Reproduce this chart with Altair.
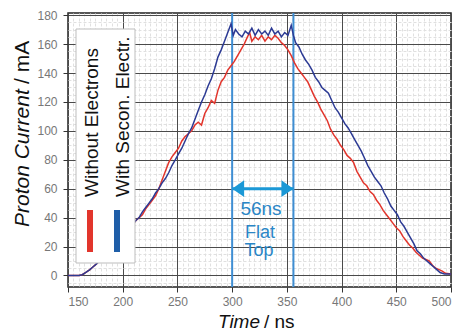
import altair as alt
import pandas as pd

# ---- data ----
t_blue = [150, 155, 160, 163, 166, 170, 173, 176, 180, 184, 188, 192, 196, 200, 204, 208, 212, 215,
          218, 221, 224, 227, 230, 233, 236, 239, 242, 245, 248, 251, 254, 257, 260, 263, 266, 269,
          272, 275, 278, 281, 284, 287, 290, 293, 296, 299, 301, 303, 306, 309, 312, 315, 318, 321,
          324, 327, 330, 333, 336, 339, 342, 345, 348, 351, 354, 356, 358, 361, 364, 367, 370, 373,
          376, 379, 382, 385, 388, 391, 394, 397, 400, 403, 406, 409, 412, 415, 418, 421, 424, 427,
          430, 433, 436, 439, 442, 445, 448, 451, 454, 457, 460, 463, 466, 469, 472, 475, 478, 481,
          484, 487, 490, 494, 500]
v_blue = [0, 0, 0, 0.5, 2, 4, 6, 8, 11, 14, 17, 21, 24, 27, 31, 34, 38, 40,
          44, 47, 50, 53, 57, 60, 64, 67, 71, 76, 80, 84, 88, 93, 98, 102, 108, 114,
          120, 125, 131, 136, 143, 151, 156, 162, 168, 174, 166, 170, 167, 165, 169, 167, 171, 166,
          170, 167, 169, 166, 171, 167, 169, 165, 168, 166, 173, 166, 161, 158, 153, 149, 146, 142,
          137, 134, 130, 128, 126, 121, 116, 113, 109, 105, 102, 98, 94, 90, 86, 81, 76, 72,
          68, 65, 62, 57, 53, 48, 45, 42, 37, 34, 30, 26, 22, 17, 15, 12, 10, 8,
          6, 4, 2, 1, 1]

t_red = [150, 155, 160, 163, 166, 170, 173, 176, 180, 184, 188, 192, 196, 200, 204, 208, 212, 215,
         218, 221, 224, 227, 230, 233, 236, 239, 242, 245, 248, 251, 254, 257, 260, 263, 266, 269,
         272, 275, 278, 281, 284, 287, 290, 293, 296, 299, 302, 305, 308, 311, 314, 316, 318, 321,
         324, 327, 330, 333, 336, 339, 342, 345, 348, 351, 354, 357, 360, 363, 366, 369, 372, 375,
         378, 381, 384, 387, 390, 393, 396, 399, 402, 405, 408, 411, 414, 417, 420, 423, 426, 429,
         432, 435, 438, 441, 444, 447, 450, 453, 456, 459, 462, 465, 468, 471, 474, 477, 480, 483,
         486, 489, 492, 495, 500]
v_red = [0, 0, 0, 0.5, 2, 4, 6, 8, 11, 14, 17, 21, 24, 27, 31, 34, 38, 40,
         42, 46, 49, 52, 55, 60, 66, 72, 78, 82, 85, 88, 93, 96, 98, 100, 104, 106,
         104, 112, 116, 121, 119, 128, 134, 137, 142, 145, 148, 152, 156, 160, 165, 168, 162, 165,
         163, 166, 162, 165, 163, 166, 164, 161, 159, 156, 152, 147, 143, 140, 137, 134, 129, 124,
         120, 115, 111, 107, 101, 97, 94, 90, 87, 83, 81, 78, 72, 68, 64, 62, 58, 56,
         52, 49, 45, 42, 39, 36, 33, 31, 27, 24, 21, 19, 16, 14, 12, 11, 10, 7,
         5, 4, 3, 1.5, 1]

series_names = ["Without Electrons", "With Secon. Electr."]
series_colors = ["#e2352c", "#2c3a94"]
flat_top = [300, 356]
arrow_level = 60
x_ticks = list(range(150, 501, 5))
y_ticks = list(range(-5, 181, 5))

FONT = "Liberation Sans"

df = pd.concat([
    pd.DataFrame({"t": t_red, "v": v_red, "s": series_names[0]}),
    pd.DataFrame({"t": t_blue, "v": v_blue, "s": series_names[1]}),
])
df["order"] = range(len(df))

x_axis = alt.Axis(
    values=x_ticks, title=None, domain=False,
    labelExpr="datum.value % 50 === 0 ? datum.label : ''",
    labelOverlap=False, labelFont=FONT, labelFontSize=12, labelColor="#777",
    labelPadding=4, tickSize=5, tickColor="#333",
    tickOpacity={"condition": {"test": "datum.value % 50 === 0", "value": 1}, "value": 0},
    gridColor={"condition": {"test": "datum.value % 50 === 0", "value": "#4a4a4a"}, "value": "#e0e0e0"},
    gridDash={"condition": {"test": "datum.value % 50 === 0", "value": []}, "value": [3, 2]},
    gridWidth=1, gridOpacity=1,
)
y_axis = alt.Axis(
    values=y_ticks, title=None, domain=False,
    labelExpr="datum.value % 20 === 0 ? datum.label : ''",
    labelOverlap=False, labelFont=FONT, labelFontSize=12, labelColor="#777",
    labelPadding=6, tickSize=5, tickColor="#333",
    tickOpacity={"condition": {"test": "datum.value % 20 === 0", "value": 1}, "value": 0},
    gridColor={"condition": {"test": "datum.value % 20 === 0", "value": "#4a4a4a"}, "value": "#e0e0e0"},
    gridDash={"condition": {"test": "datum.value % 20 === 0", "value": []}, "value": [3, 2]},
    gridWidth=1, gridOpacity=1,
)
xs = alt.Scale(domain=[150, 500], nice=False, zero=False)
ys = alt.Scale(domain=[-8, 181.5], nice=False, zero=False)

def X(field="t"):
    return alt.X(f"{field}:Q", scale=xs, axis=x_axis)

def Y(field="v"):
    return alt.Y(f"{field}:Q", scale=ys, axis=y_axis)

vl = alt.Chart(pd.DataFrame({"t": flat_top})).mark_rule(color="#3f8ed3", strokeWidth=2).encode(x=X())

lines = alt.Chart(df).mark_line(strokeWidth=1.5).encode(
    x=X(), y=Y(),
    color=alt.Color("s:N", scale=alt.Scale(domain=series_names, range=series_colors), legend=None),
    detail="s:N", order="order:Q",
)

# legend (drawn by hand, rotated like the reference)
leg_box = alt.Chart(pd.DataFrame({"a": [0]})).mark_rect(
    fill="white", stroke="#bdbdbd", strokeWidth=1
).encode(x=alt.value(8), x2=alt.value(67), y=alt.value(16), y2=alt.value(250))
leg_t1 = alt.Chart(pd.DataFrame({"label": [series_names[0]]})).mark_text(
    angle=270, align="left", baseline="middle", font=FONT, fontSize=19, color="#111"
).encode(x=alt.value(24), y=alt.value(184), text="label:N")
leg_t2 = alt.Chart(pd.DataFrame({"label": [series_names[1]]})).mark_text(
    angle=270, align="left", baseline="middle", font=FONT, fontSize=19, color="#111"
).encode(x=alt.value(55), y=alt.value(184), text="label:N")
leg_b1 = alt.Chart(pd.DataFrame({"a": [0]})).mark_rect(color="#e2352c").encode(
    x=alt.value(19), x2=alt.value(25), y=alt.value(197), y2=alt.value(239))
leg_b2 = alt.Chart(pd.DataFrame({"a": [0]})).mark_rect(color="#1f5ea8").encode(
    x=alt.value(46), x2=alt.value(52), y=alt.value(197), y2=alt.value(239))

# flat-top arrow
arrow_df = pd.DataFrame({"t": [flat_top[0]], "t2": [flat_top[1]], "v": [arrow_level]})
arrow = alt.Chart(arrow_df).mark_rule(color="#1b98d6", strokeWidth=3).encode(
    x=X(), x2="t2:Q", y=Y())
head_l = alt.Chart(pd.DataFrame({"t": [flat_top[0]], "v": [arrow_level]})).mark_point(
    shape="M0,0L2,-1.4L2,1.4Z", filled=True, size=144, color="#1b98d6", opacity=1
).encode(x=X(), y=Y())
head_r = alt.Chart(pd.DataFrame({"t": [flat_top[1]], "v": [arrow_level]})).mark_point(
    shape="M0,0L-2,-1.4L-2,1.4Z", filled=True, size=144, color="#1b98d6", opacity=1
).encode(x=X(), y=Y())

def txt(s, x, y, size=20, style="normal", align="center", angle=0, color="#2a86c6"):
    return alt.Chart(pd.DataFrame({"label": [s]})).mark_text(
        align=align, baseline="alphabetic", font=FONT, fontSize=size,
        fontStyle=style, color=color, angle=angle
    ).encode(x=alt.value(x), y=alt.value(y), text="label:N")

ann = [txt("56ns", 193, 202, size=19), txt("Flat", 192, 225, size=18), txt("Top", 191, 243, size=18)]

titles = [
    txt("Time", 192, 315, size=19, style="italic", align="right", color="#111"),
    txt("/ ns", 196, 315, size=19, align="left", color="#111"),
    txt("Proton Current", -39, 214, size=21, style="italic", align="left", angle=270, color="#111"),
    txt("/ mA", -39, 71, size=21, align="left", angle=270, color="#111"),
]

chart = alt.layer(
    vl, lines, leg_box, leg_t1, leg_t2, leg_b1, leg_b2, arrow, head_l, head_r, *ann, *titles
).properties(
    width=383, height=274,
    autosize=alt.AutoSizeParams(type="none"),
    padding={"left": 60, "top": 5, "right": 4, "bottom": 46},
    background="white",
).configure_view(stroke="#222", strokeWidth=1.5)

chart.save("out.html", embed_options={"renderer": "svg", "actions": False})
